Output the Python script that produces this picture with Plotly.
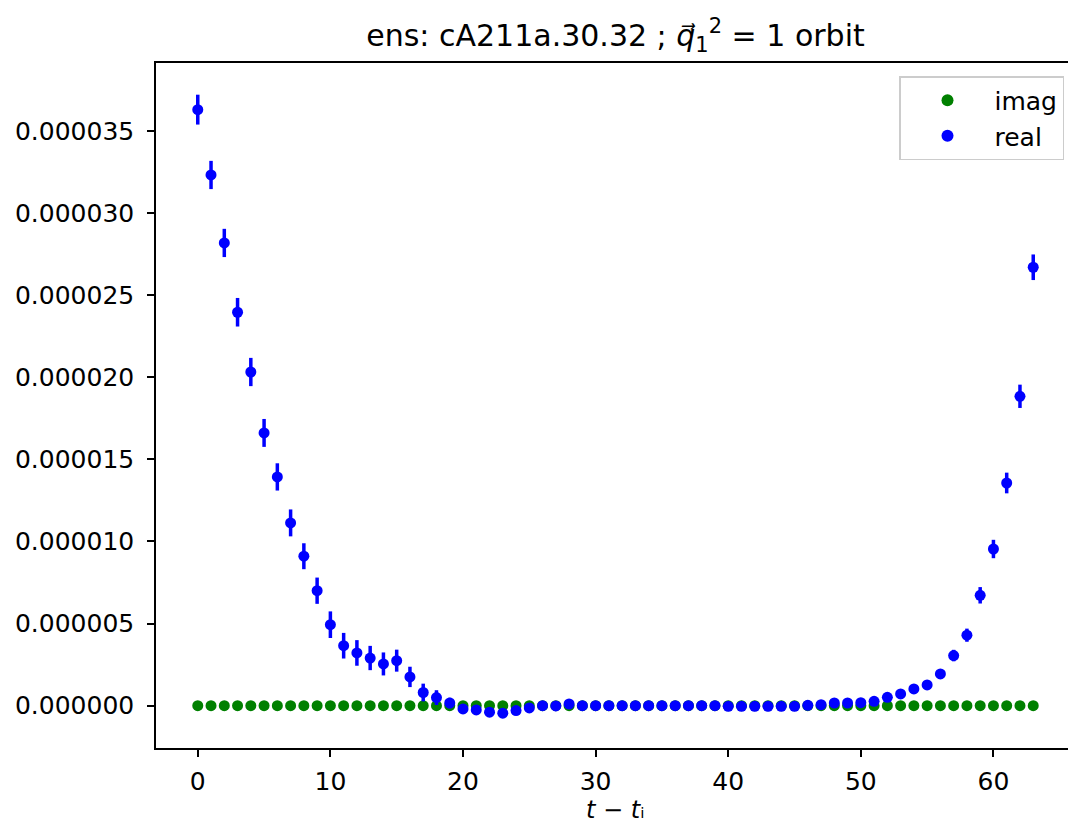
import numpy as np
import plotly.graph_objects as go

# time slices
t = list(range(64))

# real part (units of 1e-6)
real_e6 = [36.30, 32.32, 28.18, 23.96, 20.32, 16.61, 13.93, 11.13, 9.10, 7.00,
           4.93, 3.65, 3.21, 2.90, 2.54, 2.74, 1.75, 0.80, 0.49, 0.16,
           -0.20, -0.26, -0.40, -0.46, -0.30, -0.14, 0.00, -0.02, 0.10, 0.00,
           0.00, 0.00, 0.00, 0.00, 0.00, 0.00, 0.00, 0.00, 0.00, 0.00,
           -0.04, -0.04, -0.04, -0.04, -0.04, -0.04, 0.02, 0.06, 0.16, 0.16,
           0.18, 0.26, 0.51, 0.71, 1.02, 1.26, 1.93, 3.05, 4.29, 6.72,
           9.54, 13.56, 18.84, 26.70]
real_err_e6 = [0.91, 0.86, 0.86, 0.87, 0.86, 0.85, 0.83, 0.82, 0.79, 0.80,
               0.81, 0.78, 0.78, 0.74, 0.70, 0.67, 0.62, 0.54, 0.45, 0.32,
               0.28, 0.24, 0.22, 0.20, 0.18, 0.16, 0.14, 0.12, 0.12, 0.12,
               0.12, 0.12, 0.12, 0.12, 0.12, 0.12, 0.12, 0.12, 0.12, 0.12,
               0.12, 0.12, 0.12, 0.12, 0.12, 0.12, 0.12, 0.12, 0.12, 0.12,
               0.13, 0.15, 0.18, 0.20, 0.22, 0.25, 0.30, 0.35, 0.40, 0.50,
               0.56, 0.63, 0.71, 0.78]

# imaginary part (units of 1e-6)
imag_e6 = [0.0] * 64
imag_err_e6 = [0.02] * 64

scale = 1e-6
real = np.array(real_e6) * scale
real_err = np.array(real_err_e6) * scale
imag = np.array(imag_e6) * scale
imag_err = np.array(imag_err_e6) * scale

ytick_vals = [0, 5e-6, 10e-6, 15e-6, 20e-6, 25e-6, 30e-6, 35e-6]
xtick_vals = [0, 10, 20, 30, 40, 50, 60]

fig = go.Figure()
fig.add_trace(go.Scatter(
    x=t, y=imag, mode="markers", name="imag",
    marker=dict(color="#008000", size=11),
    error_y=dict(type="data", array=imag_err, color="#008000", thickness=3.5, width=0),
))
fig.add_trace(go.Scatter(
    x=t, y=real, mode="markers", name="real",
    marker=dict(color="#0000ff", size=11),
    error_y=dict(type="data", array=real_err, color="#0000ff", thickness=3.5, width=0),
))

font_family = "DejaVu Sans"
fig.update_layout(
    width=1076, height=822,
    margin=dict(l=148, r=9, t=55, b=82, autoexpand=False),
    paper_bgcolor="white", plot_bgcolor="white",
    font=dict(family=font_family, size=25, color="black"),
    title=dict(
        text="ens: cA211a.30.32 ; <i>q⃗</i><sub>1</sub><sup>2</sup> = 1 orbit",
        x=(148 + 1067) / 2 / 1076, xanchor="center",
        y=1 - 27 / 822, yanchor="middle", yref="container",
        font=dict(family=font_family, size=30, color="black"),
    ),
    showlegend=True,
    legend=dict(
        x=1 - 11 / 919, xanchor="right", y=1 - 13 / 685, yanchor="top",
        bgcolor="white", bordercolor="#cccccc", borderwidth=1.5,
        font=dict(family=font_family, size=25, color="black"),
        itemsizing="constant", itemwidth=84,
    ),
    annotations=[dict(
        text="<i>t</i> − <i>t</i>ᵢ",
        xref="paper", yref="paper", x=0.5, y=-(802 - 740) / 685,
        xanchor="center", yanchor="middle", showarrow=False,
        font=dict(family=font_family, size=24, color="black"),
    )],
)
fig.update_xaxes(
    range=[-3.15, 66.15], tickvals=xtick_vals, automargin=False,
    showline=True, linecolor="black", linewidth=1.5, mirror=True,
    ticks="outside", ticklen=7, tickwidth=1.5, tickcolor="black",
    showgrid=False, zeroline=False, ticklabelstandoff=3,
)
fig.update_yaxes(
    range=[-2.58e-6, 39.14e-6], tickvals=ytick_vals, tickformat=".6f",
    automargin=False,
    showline=True, linecolor="black", linewidth=1.5, mirror=True,
    ticks="outside", ticklen=7, tickwidth=1.5, tickcolor="black",
    showgrid=False, zeroline=False, ticklabelstandoff=8,
)

fig.write_html("out.html")
